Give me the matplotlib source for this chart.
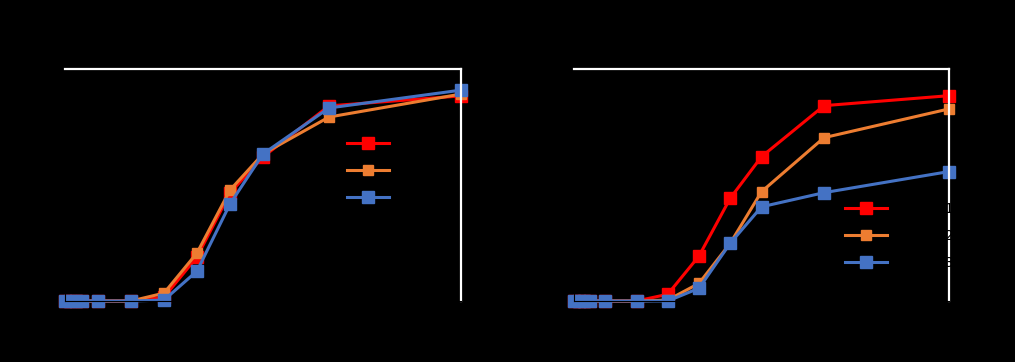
import matplotlib
matplotlib.use("Agg")
import matplotlib.pyplot as plt
from matplotlib.ticker import FuncFormatter

# x values (log2 spaced doses), shared by both panels
doses = [0.5, 0.56, 0.63, 0.71, 1, 2, 4, 8, 16, 32, 128, 2048]

# left panel
left_red = [0, 0, 0, 0, 0, 0, 1.7, 19.0, 46.6, 62.1, 84.1, 88.4]
left_orange = [0, 0, 0, 0, 0, 0, 3.4, 20.7, 47.8, 63.4, 79.3, 89.2]
left_blue = [0, 0, 0, 0, 0, 0, 0.4, 12.9, 41.8, 63.4, 83.2, 90.9]

# right panel
right_red = [0, 0, 0, 0, 0, 0, 2.9, 19.4, 44.3, 62.2, 84.2, 88.5]
right_orange = [0, 0, 0, 0, 0, 0, 0.4, 7.6, 24.9, 47.1, 70.4, 82.8]
right_blue = [0, 0, 0, 0, 0, 0, 0.0, 5.5, 24.9, 40.6, 46.7, 55.8]

labels = ["Series 1", "Series 2", "Series 3"]
colors = ["#ff0000", "#ed7d31", "#4472c4"]

fig = plt.figure(figsize=(10.15, 3.62), dpi=100, facecolor="black")
W, H = 1015, 362


def make_axes(x0, x1, y0, y1):
    return fig.add_axes([x0 / W, 1 - y1 / H, (x1 - x0) / W, (y1 - y0) / H])


panels = [
    (make_axes(65, 461, 69, 301), [left_red, left_orange, left_blue], (347, 171)),
    (make_axes(574, 949, 69, 301), [right_red, right_orange, right_blue], (845, 236)),
]

for ax, series, leg_pos in panels:
    ax.set_facecolor("black")
    for vals, col, lab in zip(series, colors, labels):
        ms = 7 if col == "#ed7d31" else 8
        ax.plot(doses, vals, color=col, lw=2.2, marker="s", ms=ms,
                mec=col, label=lab, clip_on=False)
    ax.set_xscale("log", base=2)
    ax.set_xlim(0.5, 2048)
    ax.set_ylim(0, 100)
    ax.xaxis.set_major_formatter(FuncFormatter(lambda v, p: f"{v:g}"))
    ax.minorticks_off()
    for s in ["top", "right"]:
        ax.spines[s].set_color("white")
        ax.spines[s].set_linewidth(1.6)
    for s in ["left", "bottom"]:
        ax.spines[s].set_color("black")
    ax.tick_params(colors="black", labelcolor="black", labelsize=8)
    ax.set_xlabel("Concentration", color="black", fontsize=9, labelpad=2)
    ax.set_ylabel("Response (%)", color="black", fontsize=9)
    leg = ax.legend(loc="center left", frameon=False, handlelength=3.0,
                    labelspacing=0.95, borderpad=0, borderaxespad=0,
                    bbox_to_anchor=(leg_pos[0] / W, 1 - leg_pos[1] / H),
                    bbox_transform=fig.transFigure)
    for t in leg.get_texts():
        t.set_color("black")

fig.savefig("out.png", dpi=100, facecolor="black")
